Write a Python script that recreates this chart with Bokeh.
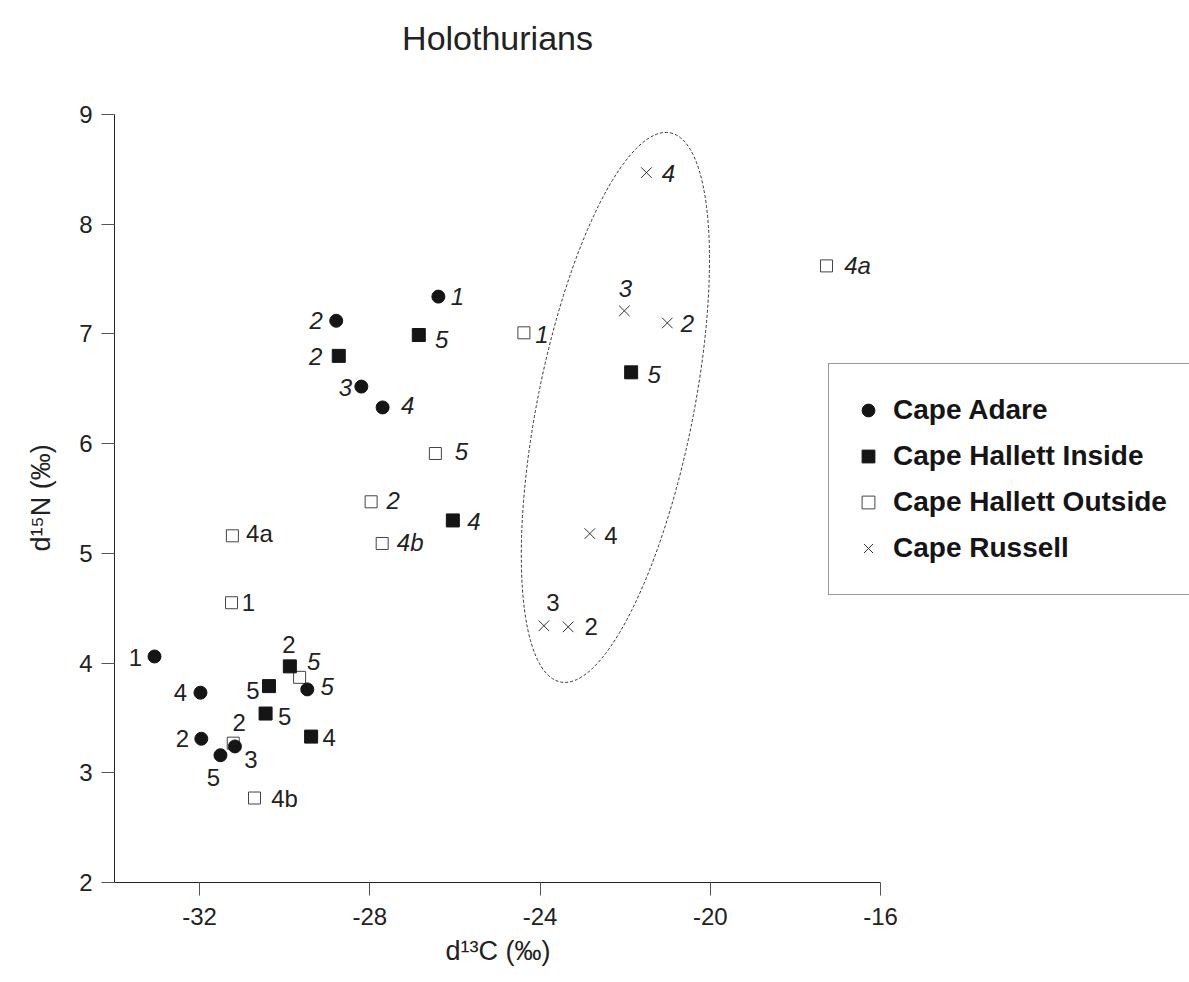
from bokeh.plotting import figure
from bokeh.models import FixedTicker, Legend, LegendItem, ColumnDataSource, Title, Label
from bokeh.core.properties import value
from bokeh.embed import file_html
from bokeh.resources import INLINE

# ---------------- data ----------------
x_ticks = [-32, -28, -24, -20, -16]
x_tick_labels = ["-32", "-28", "-24", "-20", "-16"]
y_ticks = [2, 3, 4, 5, 6, 7, 8, 9]
y_tick_labels = ["2", "3", "4", "5", "6", "7", "8", "9"]

series_names = ["Cape Adare", "Cape Hallett Inside", "Cape Hallett Outside", "Cape Russell"]

adare_x = [-26.39, -28.79, -28.20, -27.70, -33.06, -31.98, -31.96, -31.17, -31.51, -29.47]
adare_y = [7.34, 7.12, 6.52, 6.33, 4.06, 3.73, 3.31, 3.24, 3.16, 3.76]
adare_lab = ["1", "2", "3", "4", "1", "4", "2", "3", "5", "5"]

hin_x = [-26.85, -28.73, -26.05, -21.86, -29.88, -30.37, -30.45, -29.38]
hin_y = [6.99, 6.80, 5.30, 6.65, 3.97, 3.79, 3.54, 3.33]
hin_lab = ["5", "2", "4", "5", "2", "5", "5", "4"]

hout_x = [-24.38, -26.46, -27.97, -27.71, -31.23, -31.25, -17.27, -29.65, -31.21, -30.71]
hout_y = [7.01, 5.91, 5.47, 5.09, 5.16, 4.55, 7.62, 3.87, 3.27, 2.77]
hout_lab = ["1", "5", "2", "4b", "4a", "1", "4a", "5", "2", "4b"]

russ_x = [-21.50, -22.02, -21.01, -22.83, -23.91, -23.34]
russ_y = [8.47, 7.21, 7.10, 5.18, 4.34, 4.33]
russ_lab = ["4", "3", "2", "4", "3", "2"]

# ---------------- label placement (screen px offsets) and styles ----------------
adare_dx = [19, -20, -16, 25, -19, -20, -19, 16, -7, 20]
adare_dy = [0, 0, 1, -2, 1, 0, 0, 13, 22, -3]
adare_st = ["italic"] * 4 + ["normal"] * 5 + ["italic"]

hin_dx = [23, -23, 21, 23, -1, -16, 19, 18]
hin_dy = [4, 1, 1, 2, -22, 4, 3, 1]
hin_st = ["italic"] * 4 + ["normal"] * 4

hout_dx = [18, 26, 22, 28, 27, 17, 31, 14, 6, 30]
hout_dy = [2, -2, -1, -1, -2, 0, 0, -16, -21, 0]
hout_st = ["italic"] * 4 + ["normal"] * 2 + ["italic", "italic", "normal", "normal"]

russ_dx = [22, 1, 20, 21, 9, 23]
russ_dy = [1, -22, 1, 2, -23, 0]
russ_st = ["italic"] * 3 + ["normal"] * 3

# ellipse around Cape Russell (centre in data units, size in screen px)
ell_cx, ell_cy = -22.23, 6.33
ell_w, ell_h, ell_angle_deg = 560, 156, 78.7

FONT = "Liberation Sans"
X_AXIS_END = -16
X_VIEW_END = -8.74    # frame extends to the right edge so the legend can overhang
Y_AXIS_END = 9
Y_VIEW_END = 10.039   # frame extends to the top edge so the title can sit inside it
TITLE_X, TITLE_Y = -25.0, 9.693

p = figure(width=1189, height=982, x_range=(-34, X_VIEW_END), y_range=(2, Y_VIEW_END),
           output_backend="svg", toolbar_location=None,
           min_border_left=114, min_border_right=0,
           min_border_top=0, min_border_bottom=100)

p.xgrid.visible = False
p.ygrid.visible = False
p.outline_line_color = None
p.background_fill_color = "white"
p.border_fill_color = "white"

for ax, ticks, labs in ((p.xaxis[0], x_ticks, x_tick_labels), (p.yaxis[0], y_ticks, y_tick_labels)):
    ax.ticker = FixedTicker(ticks=ticks)
    ax.major_label_overrides = {t: l for t, l in zip(ticks, labs)}
    ax.minor_tick_line_color = None
    ax.major_tick_in = 0
    ax.major_tick_out = 13
    ax.major_tick_line_color = "#555555"
    ax.axis_line_color = "#222222"
    ax.major_label_text_font = FONT
    ax.major_label_text_font_size = "24px"
    ax.major_label_text_color = "#222222"

p.xaxis.bounds = (-34, X_AXIS_END)
p.yaxis.bounds = (2, Y_AXIS_END)
p.xaxis.major_label_standoff = 12
p.yaxis.major_label_standoff = 9

title = Label(x=TITLE_X, y=TITLE_Y, text="Holothurians", text_align="center",
              text_baseline="middle", text_font=FONT, text_font_size="34px",
              text_color="#222222")
p.add_layout(title)

xlab = Title(text="d\u00b9\u00b3C (\u2030)", align="left", offset=331, standoff=16,
             vertical_align="top",
             text_font=FONT, text_font_size="27px", text_font_style="normal",
             text_color="#222222")
p.add_layout(xlab, "below")

ylab = Title(text="d\u00b9\u2075N (\u2030)", align="left", offset=331, standoff=41,
             text_font=FONT, text_font_size="27px", text_font_style="normal",
             text_color="#222222")
p.add_layout(ylab, "left")

# ellipse
p.ellipse(x=[ell_cx], y=[ell_cy], width=ell_w, height=ell_h, angle=ell_angle_deg,
          angle_units="deg", width_units="screen", height_units="screen",
          fill_color=None, line_color="#333333", line_width=1, line_dash="3 2")

r_hout = p.scatter(hout_x, hout_y, marker="square", size=12, fill_color="white",
                   line_color="#444444", line_width=1)
r_hin = p.scatter(hin_x, hin_y, marker="square", size=13, fill_color="#151515",
                  line_color="#151515")
r_adare = p.scatter(adare_x, adare_y, marker="circle", size=13, fill_color="#151515",
                    line_color="#151515")
r_russ = p.scatter(russ_x, russ_y, marker="x", size=15, line_color="#333333", line_width=1)

lab_src = ColumnDataSource(dict(
    x=adare_x + hin_x + hout_x + russ_x,
    y=adare_y + hin_y + hout_y + russ_y,
    text=adare_lab + hin_lab + hout_lab + russ_lab,
    dx=adare_dx + hin_dx + hout_dx + russ_dx,
    dy=adare_dy + hin_dy + hout_dy + russ_dy,
    st=adare_st + hin_st + hout_st + russ_st,
))
p.text(x="x", y="y", text="text", x_offset="dx", y_offset="dy", text_font_style="st",
       source=lab_src, text_align="center", text_baseline="middle",
       text_font=value(FONT), text_font_size="24px", text_color="#222222")

legend = Legend(items=[LegendItem(label=series_names[0], renderers=[r_adare]),
                       LegendItem(label=series_names[1], renderers=[r_hin]),
                       LegendItem(label=series_names[2], renderers=[r_hout]),
                       LegendItem(label=series_names[3], renderers=[r_russ])],
                location=(714, 287), padding=23, spacing=0, margin=0,
                glyph_width=32, glyph_height=46, label_height=46, label_width=320,
                label_standoff=9, label_text_font=FONT, label_text_font_size="28px",
                label_text_font_style="bold", label_text_color="#151515",
                border_line_color="#333333", border_line_width=1,
                background_fill_color="white", background_fill_alpha=1.0)
p.add_layout(legend)

open("out.html", "w").write(file_html(p, INLINE))
